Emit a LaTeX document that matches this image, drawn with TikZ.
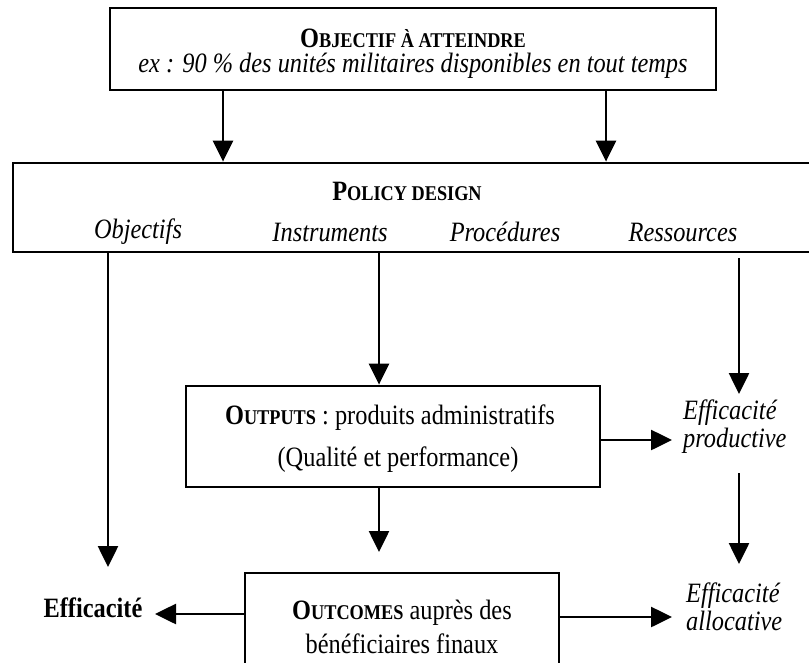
\documentclass[tikz,border=0pt]{standalone}
\usepackage{fontspec}
\setmainfont{Liberation Serif}[FakeStretch=0.87]
\usetikzlibrary{arrows.meta}
% small capitals faked with a smaller upper-case size
\newcommand\smallcapsize[1]{{\fontsize{21}{23}\selectfont #1}}
\begin{document}
\begin{tikzpicture}[x=1pt,y=-1pt,
  every node/.style={font=\fontsize{28}{30}\selectfont, inner sep=0pt},
  framebox/.style={draw, line width=2.8pt},
  label/.style={align=center},
  sidetext/.style={align=left, anchor=west, font=\fontsize{28}{28}\selectfont\itshape},
  arr/.style={line width=2.6pt, -{Triangle[length=21pt,width=20pt]}}]
\useasboundingbox (0,0) rectangle (809,662);
\clip (0,0) rectangle (809,662);

% frames
\node[framebox, minimum width=606pt, minimum height=82pt] (goal) at (413,49) {};
\node[framebox, minimum width=807pt, minimum height=89pt] (design) at (416.5,207.5) {};
\node[framebox, minimum width=414pt, minimum height=101pt] (outputs) at (393,436.5) {};
\node[framebox, minimum width=314pt, minimum height=99pt] (outcomes) at (402,622.5) {};

% texts of the frames
\node[label] (goaltitle) at (413,38) {\bfseries O\smallcapsize{BJECTIF À ATTEINDRE}};
\node[label] (goalex) at (413,66) {\itshape ex : 90 \% des unités militaires disponibles en tout temps};
\node[label] (designtitle) at (407,191) {\bfseries P\smallcapsize{OLICY DESIGN}};
\node[label] (obj) at (138,232) {\itshape Objectifs};
\node[label] (instr) at (330,232) {\itshape Instruments};
\node[label] (proc) at (505,232) {\itshape Procédures};
\node[label] (res) at (683,232) {\itshape Ressources};
\node[label] (outa) at (390,418) {{\bfseries O\smallcapsize{UTPUTS}} : produits administratifs};
\node[label] (outb) at (398,460) {(Qualité et performance)};
\node[label] (outca) at (402,613) {{\bfseries O\smallcapsize{UTCOMES}} auprès des};
\node[label] (outcb) at (402,644) {bénéficiaires finaux};

% free-standing labels
\node[sidetext] (prod) at (683,427) {Efficacité\\productive};
\node[sidetext] (alloc) at (686,607) {Efficacité\\allocative};
\node[label] (effic) at (93,608) {\bfseries Efficacité};

% connector positions
\coordinate (gx1) at (223,0);
\coordinate (gx2) at (606,0);
\coordinate (objtip) at (108,567);
\coordinate (ix) at (379,0);
\coordinate (restop) at (739,258);
\coordinate (restip) at (739,394);
\coordinate (prodtop) at (739,473);
\coordinate (prodtip) at (739,564);
\coordinate (py) at (0,440);
\coordinate (ptip) at (672,440);
\coordinate (ay) at (0,617);
\coordinate (atip) at (672,617);
\coordinate (ly) at (0,614);
\coordinate (ltip) at (155,614);
\coordinate (outtip) at (379,552);

% connectors
\draw[arr] (goal.south -| gx1) -- (design.north -| gx1);
\draw[arr] (goal.south -| gx2) -- (design.north -| gx2);
\draw[arr] (design.south -| objtip) -- (objtip);
\draw[arr] (design.south -| ix) -- (outputs.north -| ix);
\draw[arr] (restop) -- (restip);
\draw[arr] (outputs.east |- py) -- (ptip);
\draw[arr] (prodtop) -- (prodtip);
\draw[arr] (outputs.south -| outtip) -- (outtip);
\draw[arr] (outcomes.west |- ly) -- (ltip);
\draw[arr] (outcomes.east |- ay) -- (atip);
\end{tikzpicture}
\end{document}
